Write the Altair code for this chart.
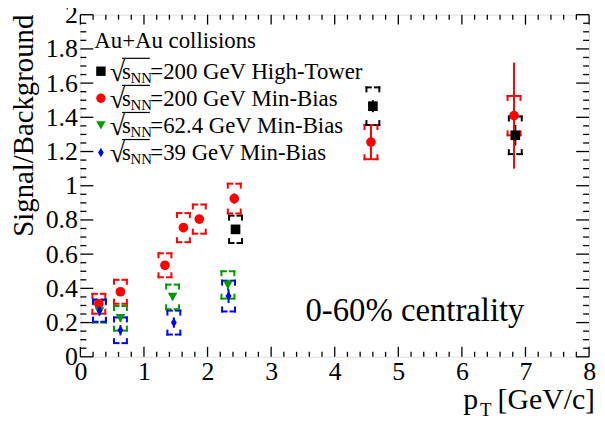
import altair as alt
import pandas as pd

# ---------------- data ----------------
series_names = ["HT200", "MB200", "MB62", "MB39"]
series_colors = ["#000000", "#ff0000", "#009900", "#0000ff"]
series_shapes = ["square", "circle", "triangle-down", "M0,-1L0.6,0L0,1L-0.6,0Z"]
legend_labels = ["=200 GeV High-Tower", "=200 GeV Min-Bias",
                 "=62.4 GeV Min-Bias", "=39 GeV Min-Bias"]

ht_pt = [2.44, 4.60, 6.84]
ht_val = [0.745, 1.465, 1.295]
ht_stat = [0.02, 0.035, 0.06]
ht_sys = [0.08, 0.11, 0.11]

mb200_pt = [0.29, 0.63, 1.33, 1.62, 1.87, 2.42, 4.57, 6.82]
mb200_val = [0.31, 0.38, 0.535, 0.755, 0.805, 0.925, 1.255, 1.41]
mb200_stat = [0.02, 0.02, 0.02, 0.02, 0.02, 0.03, 0.105, 0.31]
mb200_sys = [0.058, 0.07, 0.07, 0.085, 0.085, 0.087, 0.10, 0.115]

mb62_pt = [0.30, 0.63, 1.45, 2.32]
mb62_val = [0.265, 0.225, 0.35, 0.42]
mb62_stat = [0.02, 0.02, 0.02, 0.03]
mb62_sys = [0.065, 0.072, 0.072, 0.08]

mb39_pt = [0.30, 0.63, 1.47, 2.33]
mb39_val = [0.27, 0.155, 0.20, 0.355]
mb39_stat = [0.03, 0.03, 0.03, 0.04]
mb39_sys = [0.065, 0.075, 0.07, 0.09]

x_major = [0, 1, 2, 3, 4, 5, 6, 7, 8]
y_major = [0, 0.2, 0.4, 0.6, 0.8, 1.0, 1.2, 1.4, 1.6, 1.8, 2.0]
x_minor = [round(0.2 * i, 2) for i in range(41) if i % 5]
y_minor = [round(0.05 * i, 3) for i in range(41) if i % 4]

# ---------------- tables ----------------
rows = []
for name, pts, vals, stats, syss in [
    ("HT200", ht_pt, ht_val, ht_stat, ht_sys),
    ("MB200", mb200_pt, mb200_val, mb200_stat, mb200_sys),
    ("MB62", mb62_pt, mb62_val, mb62_stat, mb62_sys),
    ("MB39", mb39_pt, mb39_val, mb39_stat, mb39_sys),
]:
    for p, v, st, sy in zip(pts, vals, stats, syss):
        rows.append({"series": name, "pt": p, "val": v,
                     "lo_stat": v - st, "hi_stat": v + st,
                     "lo_sys": v - sy, "hi_sys": v + sy})
df = pd.DataFrame(rows)

W, H = 513, 345
FONT = "'Liberation Serif', 'Times New Roman', Times, serif"

xs = alt.Scale(domain=[0, 8], nice=False, zero=False)
ys = alt.Scale(domain=[0, 2], nice=False, zero=False)
xaxis = alt.Axis(values=x_major, ticks=False, domain=False, grid=False,
                 labelFont=FONT, labelFontSize=26, labelColor="black",
                 labelPadding=2, title=None, labelFlush=False)
yaxis = alt.Axis(values=y_major, ticks=False, domain=False, grid=False,
                 labelFont=FONT, labelFontSize=26, labelColor="black",
                 labelPadding=3, title=None, format=".2~f", labelFlush=False)


def X(f):
    return alt.X(f"{f}:Q", scale=xs, axis=xaxis, title=None)


def Y(f):
    return alt.Y(f"{f}:Q", scale=ys, axis=yaxis, title=None)


color = alt.Color("series:N", scale=alt.Scale(domain=series_names, range=series_colors),
                  legend=None)
shape = alt.Shape("series:N", scale=alt.Scale(domain=series_names, range=series_shapes),
                  legend=None)

layers = []

# ticks (inside, ROOT style)
xmaj = pd.DataFrame({"t": x_major})
xmin = pd.DataFrame({"t": x_minor})
ymaj = pd.DataFrame({"t": y_major})
ymin = pd.DataFrame({"t": y_minor})
tick_style = dict(color="black", strokeWidth=1.3)
layers.append(alt.Chart(xmaj).mark_rule(**tick_style).encode(x=X("t"), y=alt.value(H), y2=alt.value(H - 10)))
layers.append(alt.Chart(xmin).mark_rule(**tick_style).encode(x=X("t"), y=alt.value(H), y2=alt.value(H - 5)))
layers.append(alt.Chart(xmaj).mark_rule(**tick_style).encode(x=X("t"), y=alt.value(0), y2=alt.value(10)))
layers.append(alt.Chart(xmin).mark_rule(**tick_style).encode(x=X("t"), y=alt.value(0), y2=alt.value(5)))
layers.append(alt.Chart(ymaj).mark_rule(**tick_style).encode(y=Y("t"), x=alt.value(0), x2=alt.value(13)))
layers.append(alt.Chart(ymin).mark_rule(**tick_style).encode(y=Y("t"), x=alt.value(0), x2=alt.value(6)))
layers.append(alt.Chart(ymaj).mark_rule(**tick_style).encode(y=Y("t"), x=alt.value(W), x2=alt.value(W - 13)))
layers.append(alt.Chart(ymin).mark_rule(**tick_style).encode(y=Y("t"), x=alt.value(W), x2=alt.value(W - 6)))

# systematic brackets
BW, BG, BT = 6.5, 2.0, 4.0
base = alt.Chart(df)
for xo, x2o in [(-BW, -BG), (BG, BW)]:
    for fld in ["hi_sys", "lo_sys"]:
        layers.append(base.mark_rule(strokeWidth=2, xOffset=xo, x2Offset=x2o, strokeCap="square").encode(
            x=X("pt"), x2="pt", y=Y(fld), color=color))
for xo in [-BW, BW]:
    for fld, off in [("hi_sys", BT), ("lo_sys", -BT)]:
        layers.append(base.mark_rule(strokeWidth=2, xOffset=xo, y2Offset=off, strokeCap="square").encode(
            x=X("pt"), y=Y(fld), y2=fld, color=color))

# statistical errors
layers.append(base.mark_rule(strokeWidth=2).encode(x=X("pt"), y=Y("lo_stat"), y2="hi_stat", color=color))
# markers
layers.append(base.mark_point(filled=True, opacity=1, size=95).encode(
    x=X("pt"), y=Y("val"), color=color, shape=shape))

# ---------------- legend (ROOT style) ----------------
one = pd.DataFrame({"d": [0]})
LF = 23
layers.append(alt.Chart(one).mark_text(text="Au+Au collisions", font=FONT, fontSize=LF,
                                       align="left", baseline="alphabetic", color="black").encode(
    x=alt.value(14), y=alt.value(34)))
for i, (lab, col, shp) in enumerate(zip(legend_labels, series_colors, series_shapes)):
    cy = 57 + 27.3 * i
    bl = cy + 7.5
    ldf = pd.DataFrame({"label": [lab]})
    layers.append(alt.Chart(ldf).mark_point(filled=True, opacity=1, size=90, shape=shp, color=col).encode(
        x=alt.value(20.7), y=alt.value(cy)))
    layers.append(alt.Chart(ldf).mark_text(text="\u221a", font=FONT, fontSize=28, align="left",
                                           baseline="alphabetic", color="black").encode(
        x=alt.value(29.5), y=alt.value(bl + 2)))
    layers.append(alt.Chart(ldf).mark_rule(color="black", strokeWidth=1.2).encode(
        x=alt.value(42), x2=alt.value(70), y=alt.value(cy - 13)))
    layers.append(alt.Chart(ldf).mark_text(text="s", font=FONT, fontSize=LF, align="left",
                                           baseline="alphabetic", color="black").encode(
        x=alt.value(42), y=alt.value(bl)))
    layers.append(alt.Chart(ldf).mark_text(text="NN", font=FONT, fontSize=15, align="left",
                                           baseline="alphabetic", color="black").encode(
        x=alt.value(50.5), y=alt.value(bl + 4)))
    layers.append(alt.Chart(ldf).mark_text(font=FONT, fontSize=LF, align="left",
                                           baseline="alphabetic", color="black").encode(
        x=alt.value(70.5), y=alt.value(bl), text="label:N"))

# centrality label
layers.append(alt.Chart(one).mark_text(text="0-60% centrality", font=FONT, fontSize=33,
                                       align="left", baseline="alphabetic", color="black").encode(
    x=alt.value(227), y=alt.value(309)))

# axis titles
layers.append(alt.Chart(one).mark_text(text="Signal/Background", font=FONT, fontSize=29, angle=270,
                                       align="right", baseline="alphabetic", color="black").encode(
    x=alt.value(-48), y=alt.value(0)))
layers.append(alt.Chart(one).mark_text(text="[GeV/c]", font=FONT, fontSize=30,
                                       align="right", baseline="alphabetic", color="black").encode(
    x=alt.value(519), y=alt.value(398)))
layers.append(alt.Chart(one).mark_text(text="p", font=FONT, fontSize=30,
                                       align="left", baseline="alphabetic", color="black").encode(
    x=alt.value(386), y=alt.value(398)))
layers.append(alt.Chart(one).mark_text(text="T", font=FONT, fontSize=19,
                                       align="left", baseline="alphabetic", color="black").encode(
    x=alt.value(403), y=alt.value(405)))

chart = alt.layer(*layers).properties(
    width=W, height=H,
    autosize=alt.AutoSizeParams(type="none"),
    padding={"left": 73, "top": 5, "right": 8, "bottom": 62},
).configure_view(stroke="black", strokeWidth=2).configure(background="white")

chart.save("out.html", embed_options={"renderer": "svg", "actions": False})
